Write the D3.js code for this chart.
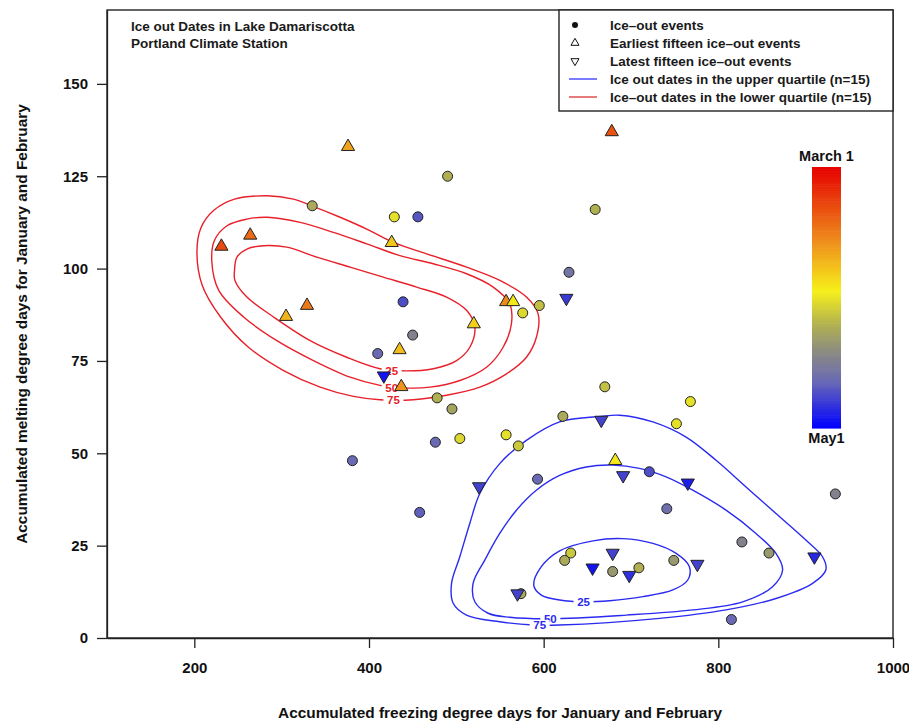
<!DOCTYPE html>
<html>
<head>
<meta charset="utf-8">
<script src="https://cdn.jsdelivr.net/npm/d3@7"></script>
<style>
  body { margin: 0; background: #fff; }
  svg text { font-family: "Liberation Sans", Arial, Helvetica, sans-serif; }
</style>
</head>
<body>
<svg id="chart" width="909" height="722"></svg>
<script>
// Ice-out events (circles): freezing degree days, melting degree days, ice-out day (days after March 1)
const eventFdd = [490, 335, 429, 456, 595, 576, 439, 450, 410, 478, 495, 659, 629, 670, 622, 476, 504, 557,
                  571, 721, 593, 458, 631, 624, 679, 709, 574, 768, 752, 741, 934, 827, 858, 749, 815, 381];
const eventMdd = [125, 117, 114, 114, 90, 88, 91, 82, 77, 65, 62, 116, 99, 68, 60, 53, 54, 55,
                  52, 45, 43, 34, 23, 21, 18, 19, 12, 64, 58, 35, 39, 26, 23, 21, 5, 48];
const eventDay = [37, 38, 31, 52, 35, 32, 53, 45, 50, 37, 39, 37, 48, 35, 38, 50, 32, 31,
                  34, 53, 50, 51, 34, 38, 41, 37, 38, 31, 31, 49, 45, 45, 41, 41, 50, 50];

// Earliest fifteen ice-out events (up triangles)
const earlyFdd = [231, 264, 376, 426, 557, 565, 520, 329, 305, 435, 437, 678, 682];
const earlyMdd = [106, 109, 133, 107, 91, 91, 85, 90, 87, 78, 68, 137, 48];
const earlyDay = [9, 13, 20, 24, 17, 28, 25, 15, 22, 23, 18, 10, 28];

// Latest fifteen ice-out events (down triangles)
const lateFdd = [417, 666, 691, 526, 765, 679, 656, 698, 570, 910, 776, 626];
const lateMdd = [71, 59, 44, 41, 42, 23, 19, 17, 12, 22, 20, 92];
const lateDay = [59, 54, 54, 54, 58, 54, 59, 56, 54, 57, 54, 55];

// Density contours, lower quartile (red) and upper quartile (blue), [fdd, mdd]
const red75 = [[203,104.5],[207.5,111],[222,115.7],[246,118.8],[283.1,119.7],[313.6,118.8],[334.5,117],
  [366.9,113.9],[397.4,110.7],[427.9,107.1],[466,104],[511.7,100.4],[549.8,96.8],[580.3,92.3],[593.6,87.8],
  [591.7,81.4],[580.3,76],[557.4,71.5],[526.9,67.9],[488.8,65.7],[450.7,64.5],[412.6,64.5],[382.2,65.4],
  [344.1,67.9],[302.2,72.4],[262,78.7],[230,86.9],[209,95.5]];
const red50 = [[220,102],[223,107.6],[237.4,111.6],[260.2,113.4],[283.1,113.9],[321.2,112.5],[359.3,109.8],
  [397.4,106.7],[435.5,103.5],[473.6,101.3],[511.7,98.6],[542.2,95],[561.2,90.5],[563.1,85.1],[553.6,78.7],
  [534.6,73.3],[504.1,69.7],[469.8,67.9],[439.3,67.7],[412.6,68.4],[378.4,70.6],[336.4,75.1],[294.5,80.5],
  [256.4,86.9],[228,94.1]];
const red25 = [[246,99.5],[248.8,103.1],[260.2,105.3],[279.3,106.2],[305.9,105.8],[340.3,103.1],[378.4,100.4],
  [416.4,97.7],[454.5,95],[488.8,92.3],[511.7,88.7],[521.2,84.2],[515.5,78.7],[500.3,75.1],[473.6,72.9],
  [443.1,72.3],[412.6,72.9],[374.5,76],[332.6,80.5],[290.7,86.9],[260.2,92.3],[246.5,96.8]];
const blue75 = [[665.9,60],[686.9,60.3],[725,58.5],[763.1,54.4],[797.4,48.1],[831.7,40.9],[866,33.7],
  [900.2,26.5],[919.3,22],[923.1,18.4],[907.9,14.8],[866,10.7],[808.8,7.6],[732.6,5.3],[618.3,3.5],
  [587.8,3.5],[549.7,4.4],[511.6,6.2],[496.4,9.4],[494.5,14.8],[504,22],[515.4,31],[526.9,39.1],
  [549.7,47.2],[580.2,53.5],[618.3,58.5]];
const blue50 = [[679,46.8],[709.7,45.9],[740.2,43.6],[770.7,40],[808.8,34.6],[843.1,28.3],[866,22.9],
  [873.6,18.4],[862.1,13.9],[827.9,9.8],[770.7,7.6],[694.5,6.2],[606.9,5.2],[561.2,5.6],[536.4,6.7],
  [521.2,9.8],[519.2,14.8],[532.6,21.1],[549.7,28.3],[568.8,34.6],[591.6,40],[618.3,44],[648.8,46.3]];
const blue25 = [[588.6,14.3],[597.3,19.3],[618.3,23.6],[656.4,26.3],[690.7,26.9],[725,25.6],[751.7,22.9],
  [766.9,19.3],[765,15.7],[747.9,13],[713.6,11.2],[675.5,10.1],[645.7,9.8],[618.3,10.3],[597.3,11.6]];

const contourLevels = ["25", "50", "75"];
const redLabelPos = [[426, 72.4], [426, 67.7], [428, 64.3]];
const blueLabelPos = [[645.7, 9.8], [607.6, 5.2], [595.4, 3.5]];

const xTicks = [200, 400, 600, 800, 1000];
const yTicks = [0, 25, 50, 75, 100, 125, 150];

// colour ramp: March 1 (red) ... May 1 (blue)
const rampDays = [0, 17, 29, 37, 44, 50, 61];
const rampColors = ["#e60000", "#ee8a1c", "#f6f01a", "#b0b052", "#878787", "#6a6ab4", "#0000ff"];

const legendLabels = ["Ice\u2013out events", "Earliest fifteen ice\u2013out events", "Latest fifteen ice\u2013out events",
  "Ice out dates in the upper quartile (n=15)", "Ice\u2013out dates in the lower quartile (n=15)"];

const svg = d3.select('#chart');
const plotLeft = 107, plotRight = 893, plotTop = 10, plotBottom = 638;

const x = d3.scaleLinear().domain([100, 1000]).range([plotLeft, plotRight]);
const y = d3.scaleLinear().domain([0, 170]).range([plotBottom, plotTop]);
const color = d3.scaleLinear().domain(rampDays).range(rampColors);

const ink = "#222";

// axes
const yAxis = svg.append('g')
  .attr('transform', `translate(${plotLeft},0)`)
  .call(d3.axisLeft(y).tickValues(yTicks).tickSize(10).tickSizeOuter(0).tickPadding(9));
const xAxis = svg.append('g')
  .attr('transform', `translate(0,${plotBottom})`)
  .call(d3.axisBottom(x).tickValues(xTicks).tickFormat(d3.format('d'))
    .tickSize(10).tickSizeOuter(0).tickPadding(14));
[xAxis, yAxis].forEach(g => {
  g.selectAll('path, line').attr('stroke', ink).attr('stroke-width', 1.3);
  g.selectAll('text').attr('fill', '#111').style('font-size', '15px').style('font-weight', 'bold');
});

svg.append('rect')
  .attr('x', plotLeft).attr('y', plotTop).attr('width', plotRight - plotLeft).attr('height', plotBottom - plotTop)
  .attr('fill', 'none').attr('stroke', ink).attr('stroke-width', 1.4);

// axis titles
svg.append('text')
  .attr('x', (plotLeft + plotRight) / 2).attr('y', 718)
  .attr('text-anchor', 'middle')
  .style('font-size', '15.4px').style('font-weight', 'bold').attr('fill', '#111')
  .text('Accumulated freezing degree days for January and February');
svg.append('text')
  .attr('transform', `translate(27,${(plotTop + plotBottom) / 2}) rotate(-90)`)
  .attr('text-anchor', 'middle')
  .style('font-size', '15.4px').style('font-weight', 'bold').attr('fill', '#111')
  .text('Accumulated melting degree days for January and February');

// contours
const contourLine = d3.line()
  .x(d => x(d[0])).y(d => y(d[1]))
  .curve(d3.curveCatmullRomClosed.alpha(0.5));

function drawContours(rings, labelPos, stroke) {
  const g = svg.append('g');
  rings.forEach(r => {
    g.append('path').attr('d', contourLine(r))
      .attr('fill', 'none').attr('stroke', stroke).attr('stroke-width', 1.4);
  });
  contourLevels.forEach((lab, i) => {
    const px = x(labelPos[i][0]), py = y(labelPos[i][1]);
    g.append('rect').attr('x', px - 10).attr('y', py - 5).attr('width', 20).attr('height', 10).attr('fill', '#fff');
    g.append('text').attr('x', px).attr('y', py + 4)
      .attr('text-anchor', 'middle').attr('fill', stroke)
      .style('font-size', '11.5px').style('font-weight', 'bold')
      .text(lab);
  });
}
drawContours([red25, red50, red75], redLabelPos, '#e8202a');
drawContours([blue25, blue50, blue75], blueLabelPos, '#2a2af0');

// points
const upTri = d3.symbol().type(d3.symbolTriangle).size(75);
const pts = svg.append('g');

pts.selectAll('circle.ev')
  .data(d3.range(eventFdd.length))
  .join('circle')
  .attr('cx', i => x(eventFdd[i])).attr('cy', i => y(eventMdd[i]))
  .attr('r', 5)
  .attr('fill', i => color(eventDay[i]))
  .attr('stroke', ink).attr('stroke-width', 1);

pts.selectAll('path.early')
  .data(d3.range(earlyFdd.length))
  .join('path')
  .attr('class', 'early')
  .attr('transform', i => `translate(${x(earlyFdd[i])},${y(earlyMdd[i])})`)
  .attr('d', upTri())
  .attr('fill', i => color(earlyDay[i]))
  .attr('stroke', ink).attr('stroke-width', 1);

pts.selectAll('path.late')
  .data(d3.range(lateFdd.length))
  .join('path')
  .attr('class', 'late')
  .attr('transform', i => `translate(${x(lateFdd[i])},${y(lateMdd[i])}) rotate(180)`)
  .attr('d', upTri())
  .attr('fill', i => color(lateDay[i]))
  .attr('stroke', ink).attr('stroke-width', 1);

// title text
svg.append('text').attr('x', 131).attr('y', 31)
  .style('font-size', '13.5px').style('font-weight', 'bold').attr('fill', '#1a1a1a')
  .text('Ice out Dates in Lake Damariscotta');
svg.append('text').attr('x', 131).attr('y', 48)
  .style('font-size', '13.5px').style('font-weight', 'bold').attr('fill', '#1a1a1a')
  .text('Portland Climate Station');

// legend
const legX = 559, legY = plotTop, legW = plotRight - legX, legH = 101;
const leg = svg.append('g');
leg.append('rect').attr('x', legX).attr('y', legY).attr('width', legW).attr('height', legH)
  .attr('fill', '#fff').attr('stroke', ink).attr('stroke-width', 1.4);
const rowY = d3.scaleLinear().domain([0, 4]).range([legY + 15, legY + 87]);
const symX = legX + 16;
leg.append('circle').attr('cx', symX).attr('cy', rowY(0)).attr('r', 3).attr('fill', '#111');
leg.append('path').attr('transform', `translate(${symX},${rowY(1)})`)
  .attr('d', d3.symbol().type(d3.symbolTriangle).size(28)()).attr('fill', 'none').attr('stroke', '#111');
leg.append('path').attr('transform', `translate(${symX},${rowY(2)}) rotate(180)`)
  .attr('d', d3.symbol().type(d3.symbolTriangle).size(28)()).attr('fill', 'none').attr('stroke', '#111');
leg.append('line').attr('x1', symX - 6).attr('x2', symX + 22).attr('y1', rowY(3)).attr('y2', rowY(3))
  .attr('stroke', '#5a5aff').attr('stroke-width', 1.6);
leg.append('line').attr('x1', symX - 6).attr('x2', symX + 22).attr('y1', rowY(4)).attr('y2', rowY(4))
  .attr('stroke', '#e05a5a').attr('stroke-width', 1.6);
legendLabels.forEach((t, i) => {
  leg.append('text').attr('x', legX + 51).attr('y', rowY(i) + 5)
    .style('font-size', '13.5px').style('font-weight', 'bold').attr('fill', '#1a1a1a').text(t);
});

// colour bar
const barX = 812, barW = 29, barTop = 167, barBottom = 428;
const barY = d3.scaleLinear().domain([0, 61]).range([barTop, barBottom]);
const barSteps = d3.range(0, 61, 0.5);
svg.append('g').selectAll('rect')
  .data(barSteps)
  .join('rect')
  .attr('x', barX).attr('width', barW)
  .attr('y', d => barY(d)).attr('height', barY(0.5) - barY(0) + 0.6)
  .attr('fill', d => color(d + 0.25));
svg.append('text').attr('x', barX + barW / 2).attr('y', barTop - 6)
  .attr('text-anchor', 'middle').style('font-size', '14.5px').style('font-weight', 'bold')
  .attr('fill', '#111').text('March 1');
svg.append('text').attr('x', barX + barW / 2).attr('y', barBottom + 15)
  .attr('text-anchor', 'middle').style('font-size', '14.5px').style('font-weight', 'bold')
  .attr('fill', '#111').text('May1');
</script>
</body>
</html>
